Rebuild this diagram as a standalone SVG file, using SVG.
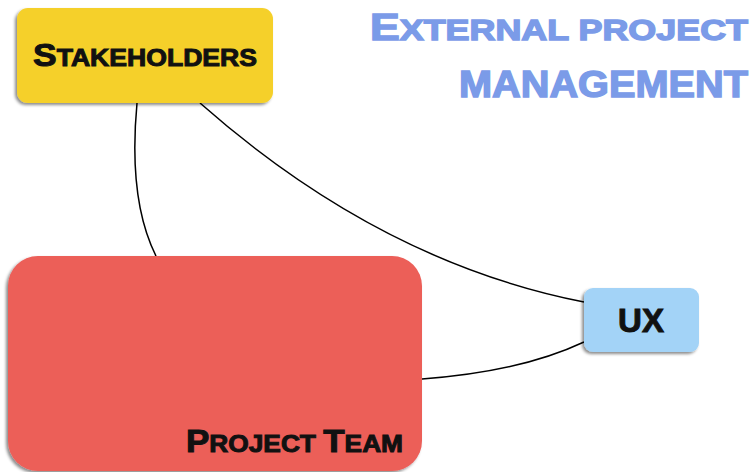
<svg xmlns="http://www.w3.org/2000/svg" width="754" height="472" viewBox="0 0 754 472">
<defs>
<filter id="sh" x="-10%" y="-10%" width="120%" height="130%">
<feDropShadow dx="-2" dy="2" stdDeviation="1.5" flood-color="#000" flood-opacity="0.45"/>
</filter>
<style>
.lbl{font-family:"Liberation Sans","DejaVu Sans",sans-serif;font-weight:bold;fill:#111;stroke:#111;stroke-width:1}
.ttl{font-family:"Liberation Sans","DejaVu Sans",sans-serif;font-weight:bold;fill:#7b9be8;stroke:#7b9be8;stroke-width:1.4}
.edge{fill:none;stroke:#000;stroke-width:1.5}
</style>
</defs>
<rect width="754" height="472" fill="#fff"/>
<g id="connectors">
<path class="edge" d="M137,103 Q128,200 156,256"/>
<path class="edge" d="M200,103 Q380,262 584,302"/>
<path class="edge" d="M422,379 Q520,372 584,342"/>
</g>
<g id="stakeholders">
<rect x="17" y="8" width="256" height="95" rx="11" fill="#f5d02a" filter="url(#sh)"/>
<text class="lbl" x="33" y="66" textLength="224" lengthAdjust="spacingAndGlyphs"><tspan font-size="32">S</tspan><tspan font-size="24">TAKEHOLDERS</tspan></text>
</g>
<g id="project-team">
<rect x="8" y="256" width="414" height="215" rx="30" fill="#ec5e59" filter="url(#sh)"/>
<text class="lbl" x="186" y="452" textLength="217" lengthAdjust="spacingAndGlyphs"><tspan font-size="32">P</tspan><tspan font-size="24">ROJECT </tspan><tspan font-size="32">T</tspan><tspan font-size="24">EAM</tspan></text>
</g>
<g id="ux">
<rect x="584" y="288" width="115" height="64" rx="9" fill="#a3d3f7" filter="url(#sh)"/>
<text class="lbl" x="641" y="332" font-size="33" text-anchor="middle">UX</text>
</g>
<g id="title">
<text class="ttl" x="370" y="40" textLength="378" lengthAdjust="spacingAndGlyphs"><tspan font-size="36">E</tspan><tspan font-size="29">XTERNAL PROJECT</tspan></text>
<text class="ttl" x="459" y="97" font-size="37" textLength="289" lengthAdjust="spacingAndGlyphs">MANAGEMENT</text>
</g>
</svg>
